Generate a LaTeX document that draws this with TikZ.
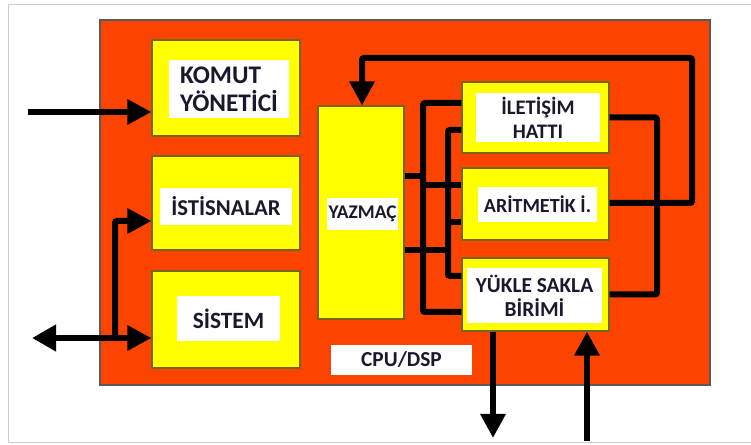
\documentclass[tikz,border=0pt]{standalone}
\usepackage{fontspec}
\setmainfont{Carlito}
\usepackage{tikz}
\usetikzlibrary{arrows.meta}
\definecolor{turuncu}{RGB}{252,67,0}
\definecolor{sari}{RGB}{255,255,0}
\definecolor{kenar}{RGB}{120,100,30}
\definecolor{dis}{RGB}{90,90,90}
\definecolor{yazi}{RGB}{25,25,45}
\definecolor{cerceve}{RGB}{205,205,205}
\tikzset{
	kutu/.style={shape=rectangle, draw=kenar, fill=sari, line width=0.8pt, inner sep=0},
	etiket/.style={shape=rectangle, fill=white, inner sep=0, text=yazi, align=center, font=\bfseries\fontsize{15}{18}\selectfont},
	hat/.style={line width=4.5pt, draw=black, rounded corners=1.5pt},
	ok/.style={hat, -{Triangle[length=18pt,width=18pt]}},
	ciftok/.style={hat, {Triangle[length=18pt,width=19pt]}-{Triangle[length=18pt,width=18pt]}}
}

\begin{document}
\begin{tikzpicture}[x=0.75pt, y=-0.75pt]
	\useasboundingbox (0,0) rectangle (751,445);
	% Frame and blocks:
	\draw[cerceve, line width=0.75pt] (751,5) -- (8,5) -- (8,443) -- (751,443);
	\node[shape=rectangle, draw=dis, fill=turuncu, line width=0.8pt, minimum width=457.5pt, minimum height=273.75pt] (cpu) at (405,202.5) {};
	\node[kutu, minimum width=111pt, minimum height=72pt] (komut) at (226,88) {};
	\node[kutu, minimum width=111pt, minimum height=70.5pt] (istisna) at (226,203) {};
	\node[kutu, minimum width=111pt, minimum height=72.75pt] (sistem) at (226,319.5) {};
	\node[kutu, minimum width=64.5pt, minimum height=159.75pt] (yazmac) at (361,212.5) {};
	\node[kutu, minimum width=110.25pt, minimum height=53.25pt] (iletisim) at (535.5,117.5) {};
	\node[kutu, minimum width=110.25pt, minimum height=54pt] (aritmetik) at (535.5,204) {};
	\node[kutu, minimum width=110.25pt, minimum height=54.75pt] (yukle) at (535.5,294.5) {};
	% Labels:
	\node[etiket, minimum width=90pt, minimum height=43.5pt, align=left, font=\bfseries\fontsize{19}{21}\selectfont] (komutyazi) at (229,89) {KOMUT\\YÖNETİCİ};
	\node[etiket, minimum width=99pt, minimum height=27.75pt, font=\bfseries\fontsize{17}{20}\selectfont] (istisnayazi) at (226,206.5) {İSTİSNALAR};
	\node[etiket, minimum width=77.25pt, minimum height=33.75pt, font=\bfseries\fontsize{17.5}{20}\selectfont] (sistemyazi) at (228.5,318.5) {SİSTEM};
	\node[etiket, minimum width=53.25pt, minimum height=24pt, font=\bfseries\fontsize{14.5}{16}\selectfont] (yazmacyazi) at (362.5,214) {YAZMAÇ};
	\node[etiket, minimum width=93pt, minimum height=36.75pt, font=\bfseries\fontsize{15.5}{18}\selectfont] (iletisimyazi) at (538,117.5) {İLETİŞİM\\HATTI};
	\node[etiket, minimum width=89.25pt, minimum height=26.25pt] (aritmetikyazi) at (537.5,204.5) {ARİTMETİK İ.};
	\node[etiket, minimum width=101.25pt, minimum height=41.25pt, font=\bfseries\fontsize{16}{18}\selectfont] (yukleyazi) at (534.5,295.5) {YÜKLE SAKLA\\BİRİMİ};
	\node[etiket, minimum width=105.75pt, minimum height=22.5pt, font=\bfseries\fontsize{16}{18}\selectfont] (cpuyazi) at (401.5,360) {CPU/DSP};
	% Wires and arrows:
	\coordinate (giris) at (28,112);
	\coordinate (gc) at (32,338);
	\coordinate (dal) at (115,338);
	\coordinate (cikis) at (493,438);
	\coordinate (donus) at (587,441);
	\draw[ok] (giris) -- (giris -| komut.west);
	\draw[ciftok] (gc) -- (gc -| sistem.west);
	\draw[ok] (dal) |- (istisna.west |- 0,221);
	\draw[ok] (aritmetik.east |- 0,203) -| (692,58) -| (yazmac.north -| 362,0);
	\draw[hat] (iletisim.east) -| (657,200) |- (yukle.east);
	\draw[hat] (iletisim.west |- 0,103) -| (423,200) |- (yukle.west |- 0,312);
	\draw[hat] (iletisim.west |- 0,130) -| (448,200) |- (yukle.west |- 0,276);
	\draw[hat] (yazmac.east |- 0,176) -- (423,176);
	\draw[hat] (yazmac.east |- 0,250) -- (448,250);
	\draw[hat] (423,185) -- (aritmetik.west |- 0,185);
	\draw[hat] (448,222) -- (aritmetik.west |- 0,222);
	\draw[ok] (yukle.south -| cikis) -- (cikis);
	\draw[ok] (donus) -- (donus |- yukle.south);
\end{tikzpicture}
\end{document}
